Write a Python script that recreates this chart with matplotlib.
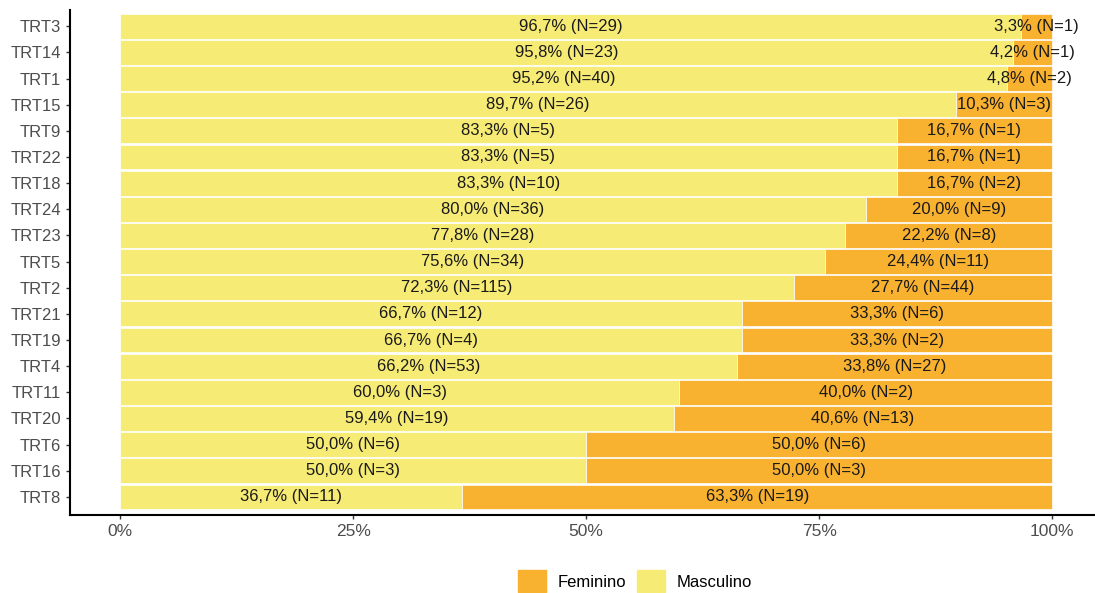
import matplotlib.pyplot as plt
from matplotlib.patches import Patch

plt.rcParams['font.family'] = ['Liberation Sans', 'DejaVu Sans']

# Groups, top to bottom as shown
groups = ["TRT3", "TRT14", "TRT1", "TRT15", "TRT9", "TRT22", "TRT18", "TRT24", "TRT23",
          "TRT5", "TRT2", "TRT21", "TRT19", "TRT4", "TRT11", "TRT20", "TRT6", "TRT16", "TRT8"]

# Masculino share (%) and counts
masc_pct = [96.7, 95.8, 95.2, 89.7, 83.3, 83.3, 83.3, 80.0, 77.8,
            75.6, 72.3, 66.7, 66.7, 66.2, 60.0, 59.4, 50.0, 50.0, 36.7]
masc_n = [29, 23, 40, 26, 5, 5, 10, 36, 28, 34, 115, 12, 4, 53, 3, 19, 6, 3, 11]

# Feminino share (%) and counts
fem_pct = [3.3, 4.2, 4.8, 10.3, 16.7, 16.7, 16.7, 20.0, 22.2,
           24.4, 27.7, 33.3, 33.3, 33.8, 40.0, 40.6, 50.0, 50.0, 63.3]
fem_n = [1, 1, 2, 3, 1, 1, 2, 9, 8, 11, 44, 6, 2, 27, 2, 13, 6, 3, 19]

COL_MASC = "#F6EB74"
COL_FEM = "#F9B130"

fig = plt.figure(figsize=(10.95, 5.93), dpi=100)
ax = fig.add_axes([70 / 1095, 78 / 593, 1025 / 1095, 505 / 593])

ypos = list(range(len(groups)))[::-1]
m = [p / 100 for p in masc_pct]
f = [p / 100 for p in fem_pct]

ax.barh(ypos, m, height=0.95, color=COL_MASC, edgecolor="white", linewidth=0.5)
ax.barh(ypos, f, left=m, height=0.95, color=COL_FEM, edgecolor="white", linewidth=0.5)

def fmt(p, n):
    return f"{p:.1f}".replace(".", ",") + f"% (N={n})"

for y, mi, fi, mp, mn, fp, fn in zip(ypos, m, f, masc_pct, masc_n, fem_pct, fem_n):
    ax.text(mi / 2, y, fmt(mp, mn), ha="center", va="center", fontsize=12, color="#1a1a1a")
    ax.text(mi + fi / 2, y, fmt(fp, fn), ha="center", va="center", fontsize=12, color="#1a1a1a")

ax.set_xlim(-0.054, 1.046)
ax.set_ylim(-0.69, len(groups) - 1 + 0.62)
ax.set_yticks(ypos)
ax.set_yticklabels(groups, fontsize=12, color="#4d4d4d")
ax.set_xticks([0, 0.25, 0.5, 0.75, 1.0])
ax.set_xticklabels(["0%", "25%", "50%", "75%", "100%"], fontsize=12.5, color="#4d4d4d")
ax.tick_params(axis="both", length=3, width=1, color="#333333")

for s in ["top", "right"]:
    ax.spines[s].set_visible(False)
for s in ["left", "bottom"]:
    ax.spines[s].set_linewidth(1.5)
    ax.spines[s].set_color("black")

handles = [Patch(color=COL_FEM, label="Feminino"), Patch(color=COL_MASC, label="Masculino")]
fig.legend(handles=handles, loc="center", bbox_to_anchor=(0.58, 0.02), ncol=2,
           frameon=False, fontsize=12, handlelength=1.7, handleheight=1.7,
           columnspacing=0.6, handletextpad=0.72, borderpad=0)

fig.savefig("out.png", dpi=100)
